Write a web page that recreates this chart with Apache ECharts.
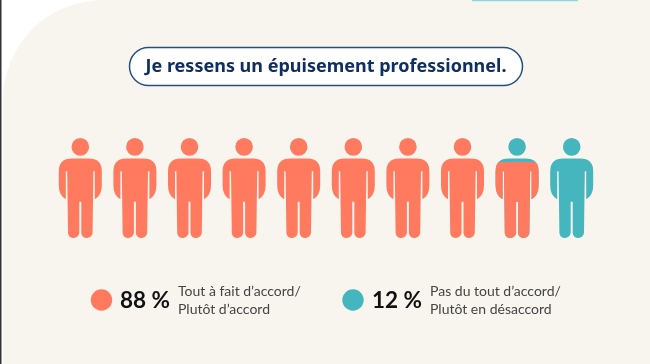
<!DOCTYPE html>
<html><head><meta charset="utf-8">
<style>html,body{margin:0;padding:0;background:#fff}#c{width:650px;height:364px}</style>
<script src="https://cdn.jsdelivr.net/npm/echarts@6/dist/echarts.min.js"></script>
</head><body><div id="c"></div>
<script>
const people = ['1','2','3','4','5','6','7','8','9','10'];
const agreeFill = [100,100,100,100,100,100,100,100,76,0];
const disagreeFill = [0,0,0,0,0,0,0,0,100,100];
const titleText = 'Je ressens un épuisement professionnel.';
const agreePct = '88 %';
const disagreePct = '12 %';
const agreeLabel = 'Tout à fait d’accord/\nPlutôt d’accord';
const disagreeLabel = 'Pas du tout d’accord/\nPlutôt en désaccord';
const CORAL = '#FF7A5F', TEAL = '#45B5BE', NAVY = '#0F2F63', BEIGE = '#F8F5EF';
const FIG = 'path://M21.5,0A8.8,8.8,0,1,1,21.49,0Z' +
 'M13,20.3L30,20.3Q43,20.3,43,33L43,47Q43,57,36,60.5L36,33L34.6,33L33.8,94A5.7,5.7,0,0,1,22.5,94L22.5,63L20.5,63L20.5,94A5.7,5.7,0,0,1,9.2,94L8.4,33L7,33L7,60.5Q0,57,0,47L0,33Q0,20.3,13,20.3Z';
const chart = echarts.init(document.getElementById('c'), null, {renderer:'canvas'});
const pictorial = (name, data, color, z) => ({
  name, type:'pictorialBar', data, z, barGap:'-100%', barCategoryGap:0,
  symbol:FIG, symbolSize:[43,100], symbolPosition:'start', symbolClip:true, symbolBoundingData:100,
  itemStyle:{color}, silent:true
});
chart.setOption({
  animation:false, backgroundColor:'#fff',
  grid:{left:53,top:138,width:546,height:100},
  xAxis:{type:'category',data:people,show:false},
  yAxis:{type:'value',min:0,max:100,show:false},
  series:[pictorial('Désaccord',disagreeFill,TEAL,2), pictorial('Accord',agreeFill,CORAL,3)],
  graphic:{elements:[
    {type:'rect',silent:true,z:-10,shape:{x:0,y:0,width:1.5,height:364},style:{fill:'#333'}},
    {type:'rect',silent:true,z:-9,shape:{x:3,y:0,width:647,height:364,r:[100,0,0,0]},style:{fill:BEIGE}},
    {type:'rect',silent:true,z:-8,shape:{x:472,y:0,width:106,height:1.3},style:{fill:'#8FD6DA'}},
    {type:'rect',silent:true,z:5,shape:{x:129.5,y:47.5,width:393,height:38,r:19},style:{fill:'#fff',stroke:'#24507F',lineWidth:1.5}},
    {type:'text',silent:true,z:6,x:326,y:66.5,style:{text:titleText,fill:NAVY,font:'bold 18px "Noto Sans"',align:'center',verticalAlign:'middle'}},
    {type:'circle',silent:true,z:5,shape:{cx:101.5,cy:300,r:10.7},style:{fill:CORAL}},
    {type:'text',silent:true,z:6,x:120,y:300.5,style:{text:agreePct,fill:'#111',font:'bold 22.5px Lato',verticalAlign:'middle'}},
    {type:'text',silent:true,z:6,x:178,y:300.5,style:{text:agreeLabel,fill:'#444',font:'14px Lato',lineHeight:18.5,verticalAlign:'middle'}},
    {type:'circle',silent:true,z:5,shape:{cx:353,cy:300,r:10.7},style:{fill:TEAL}},
    {type:'text',silent:true,z:6,x:372,y:300.5,style:{text:disagreePct,fill:'#111',font:'bold 22.5px Lato',verticalAlign:'middle'}},
    {type:'text',silent:true,z:6,x:430,y:300.5,style:{text:disagreeLabel,fill:'#444',font:'14px Lato',lineHeight:18.5,verticalAlign:'middle'}}
  ]}
});
</script></body></html>
